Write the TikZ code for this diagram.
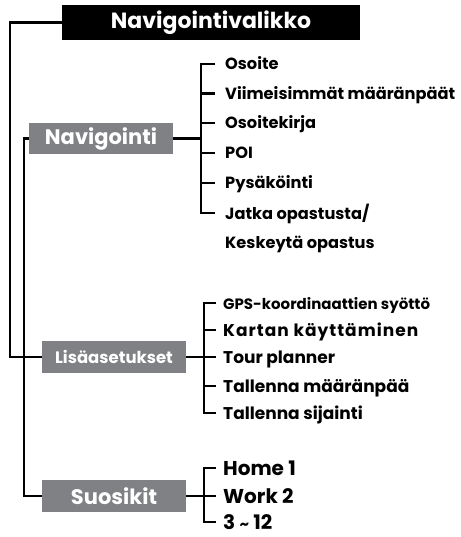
\documentclass[tikz,border=0pt]{standalone}
\usepackage{fontspec}
\setmainfont{Poppins}
\usepackage{tikz}
\tikzset{>=latex}
\usetikzlibrary{calc}
\definecolor{menugray}{RGB}{128,129,133}
\newcommand{\fs}[1]{\fontsize{#1}{#1}\selectfont}

\tikzset{
  head/.style={fill=black, text=white, font=\bfseries\fs{22}, minimum width=298pt, minimum height=35pt, inner sep=0pt},
  group/.style={fill=menugray, text=white, font=\bfseries\fs{21}, minimum width=144pt, minimum height=31pt, inner sep=0pt},
  item/.style={anchor=west, inner sep=0pt, font=\bfseries\fs{16.2}, text height=12pt, text depth=0pt},
  big item/.style={item, font=\bfseries\fs{20}, text height=14pt},
  link/.style={line width=2.5pt}
}

\begin{document}
\begin{tikzpicture}[x=1pt, y=-1pt]
  \useasboundingbox (0,0) rectangle (460,537);

  % main menu and its three groups
  \node[head] (menu) at (211,22.5) {Navigointivalikko};
  \node[group] (nav) at (101,138.5) {Navigointi};
  \node[group, font=\bfseries\fs{16.5}, minimum height=32pt] (lisa) at (114,357) {Lisäasetukset};
  \node[group, minimum height=32pt] (suos) at (114,496) {Suosikit};

  % items of Navigointi
  \node[item] (n1) at (225,64) {Osoite};
  \node[item] (n2) at (225,93.5) {Viimeisimmät määränpäät};
  \node[item] (n3) at (225,123) {Osoitekirja};
  \node[item] (n4) at (225,153) {POI};
  \node[item] (n5) at (225,183) {Pysäköinti};
  \node[item] (n6) at (225,213) {Jatka opastusta/};
  \node[item] (n7) at (225,242) {Keskeytä opastus};

  % items of Lisäasetukset
  \node[item, font=\bfseries\fs{15}] (l1) at (223,303) {GPS-koordinaattien syöttö};
  \node[item, font=\bfseries\fs{17}\addfontfeature{LetterSpace=6}] (l2) at (223,330) {Kartan käyttäminen};
  \node[item, font=\bfseries\fs{17}] (l3) at (223,357) {Tour planner};
  \node[item, font=\bfseries\fs{17}] (l4) at (223,386) {Tallenna määränpää};
  \node[item, font=\bfseries\fs{17}] (l5) at (223,413) {Tallenna sijainti};

  % items of Suosikit
  \node[big item] (s1) at (223,468) {Home 1};
  \node[big item] (s2) at (223,496) {Work 2};
  \node[big item] (s3) at (223,522) {3 {\fs{15}\char"7E} 12};

  % tree lines on the left
  \draw[link] (menu.west) -- ++(-52,0) |- (lisa.west);
  \draw[link] (nav.west) -- ++(-5,0) |- (suos.west);

  % brackets
  \draw[link] ([xshift=-10pt]n1.west) -- ++(-14,0) |- ([xshift=-10pt]n6.west);
  \foreach \n in {n2,n3,n4,n5}
    \draw[link] ([xshift=-10pt]\n.west) -- ++(-14,0);
  \draw[link] (nav.east) -- ($(n1.west)!(nav.east)!(n6.west) + (-24,0)$);

  \draw[link] ([xshift=-7pt]l1.west) -- ++(-12,0) |- ([xshift=-7pt]l5.west);
  \foreach \n in {l2,l4}
    \draw[link] ([xshift=-7pt]\n.west) -- ++(-12,0);
  \draw[link] (lisa.east) -- ([xshift=-7pt]l3.west);

  \draw[link] ([xshift=-7pt]s1.west) -- ++(-12,0) |- ([xshift=-7pt]s3.west);
  \draw[link] (suos.east) -- ([xshift=-7pt]s2.west);
\end{tikzpicture}
\end{document}
